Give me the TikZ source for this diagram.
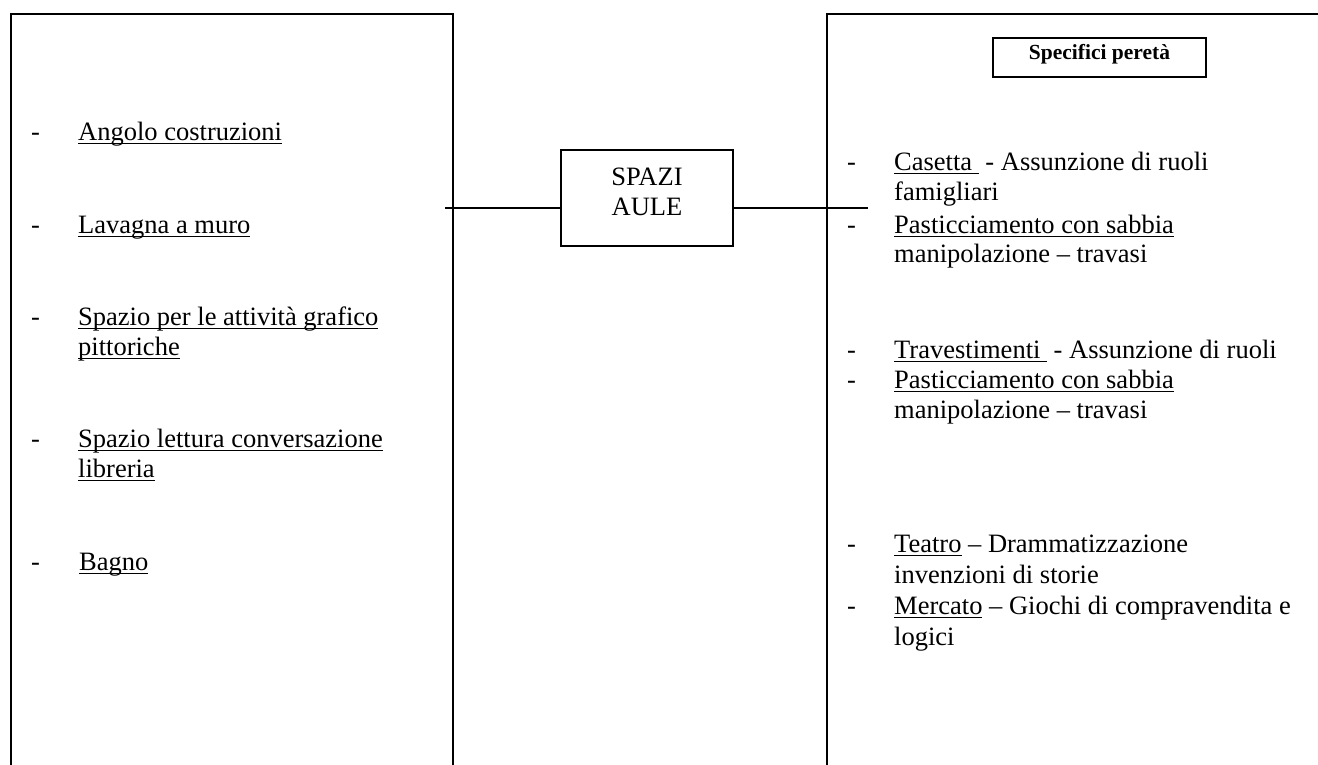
\documentclass[tikz,border=0pt]{standalone}
\usepackage{fontspec}
\setmainfont{Liberation Serif}
\newcommand\ulz[1]{\setbox0=\hbox{#1}\rlap{\rule[-4.3pt]{\wd0}{1.3pt}}\box0\relax}
\tikzset{
  frame/.style={draw=black, line width=1.5pt, inner sep=0pt, fill=none},
  conn/.style={draw=black, line width=1.7pt},
  txt/.style={anchor=base west, inner sep=0pt, font=\fontsize{26.5}{30.5}\selectfont},
  ctxt/.style={anchor=base, inner sep=0pt, font=\fontsize{26.5}{30.5}\selectfont},
  btxt/.style={anchor=base, inner sep=0pt, font=\fontsize{21.5}{25}\selectfont\bfseries}
}
\begin{document}
\begin{tikzpicture}[x=1pt,y=-1pt]
\clip (0,0) rectangle (1318,764);
\fill[white] (0,0) rectangle (1318,764);
% panels
\node[frame, minimum width=442pt, minimum height=800pt, anchor=north west] (lp) at (10,13) {};
\node[frame, minimum width=600pt, minimum height=800pt, anchor=north west] (rp) at (826,13) {};
% centre box
\node[frame, minimum width=172pt, minimum height=96pt] (center) at (647,198) {};
\node[ctxt] (c1) at (647,185) {SPAZI};
\node[ctxt] (c2) at (647,215) {AULE};
% connectors
\coordinate (lstart) at (445,208);
\coordinate (rend) at (868,208);
\draw[conn] (lstart) -- (center.west |- lstart);
\draw[conn] (center.east |- rend) -- (rend);
% inner header box
\node[frame, minimum width=213pt, minimum height=39pt] (hdr) at (1099.5,57.5) {};
\node[btxt] (hdrt) at (1099.5,59) {Specifici peretà};
% left list
\node[txt] (ld1) at (31,140) {-};
\node[txt] (l1) at (78,140) {\ulz{Angolo costruzioni}};
\node[txt] (ld2) at (31,233) {-};
\node[txt] (l2) at (78,233) {\ulz{Lavagna a muro}};
\node[txt] (ld3) at (31,325) {-};
\node[txt] (l3a) at (78,325) {\ulz{Spazio per le attività grafico}};
\node[txt] (l3b) at (78,355) {\ulz{pittoriche}};
\node[txt] (ld4) at (31,447) {-};
\node[txt] (l4a) at (78,447) {\ulz{Spazio lettura conversazione}};
\node[txt] (l4b) at (78,477) {\ulz{libreria}};
\node[txt] (ld5) at (31,570) {-};
\node[txt] (l5) at (79,570) {\ulz{Bagno}};
% right list
\node[txt] (rd1) at (847,170) {-};
\node[txt] (r1a) at (894,170) {\ulz{Casetta } - Assunzione di ruoli};
\node[txt] (r1b) at (894,200) {famigliari};
\node[txt] (rd2) at (847,233) {-};
\node[txt] (r2a) at (894,233) {\ulz{Pasticciamento con sabbia}};
\node[txt] (r2b) at (894,262) {manipolazione – travasi};
\node[txt] (rd3) at (847,358) {-};
\node[txt] (r3a) at (894,358) {\ulz{Travestimenti } - Assunzione di ruoli};
\node[txt] (rd4) at (847,388) {-};
\node[txt] (r4a) at (894,388) {\ulz{Pasticciamento con sabbia}};
\node[txt] (r4b) at (894,418) {manipolazione – travasi};
\node[txt] (rd5) at (847,552) {-};
\node[txt] (r5a) at (894,552) {\ulz{Teatro} – Drammatizzazione};
\node[txt] (r5b) at (894,583) {invenzioni di storie};
\node[txt] (rd6) at (847,614) {-};
\node[txt] (r6a) at (894,614) {\ulz{Mercato} – Giochi di compravendita e};
\node[txt] (r6b) at (894,645) {logici};
\end{tikzpicture}
\end{document}
